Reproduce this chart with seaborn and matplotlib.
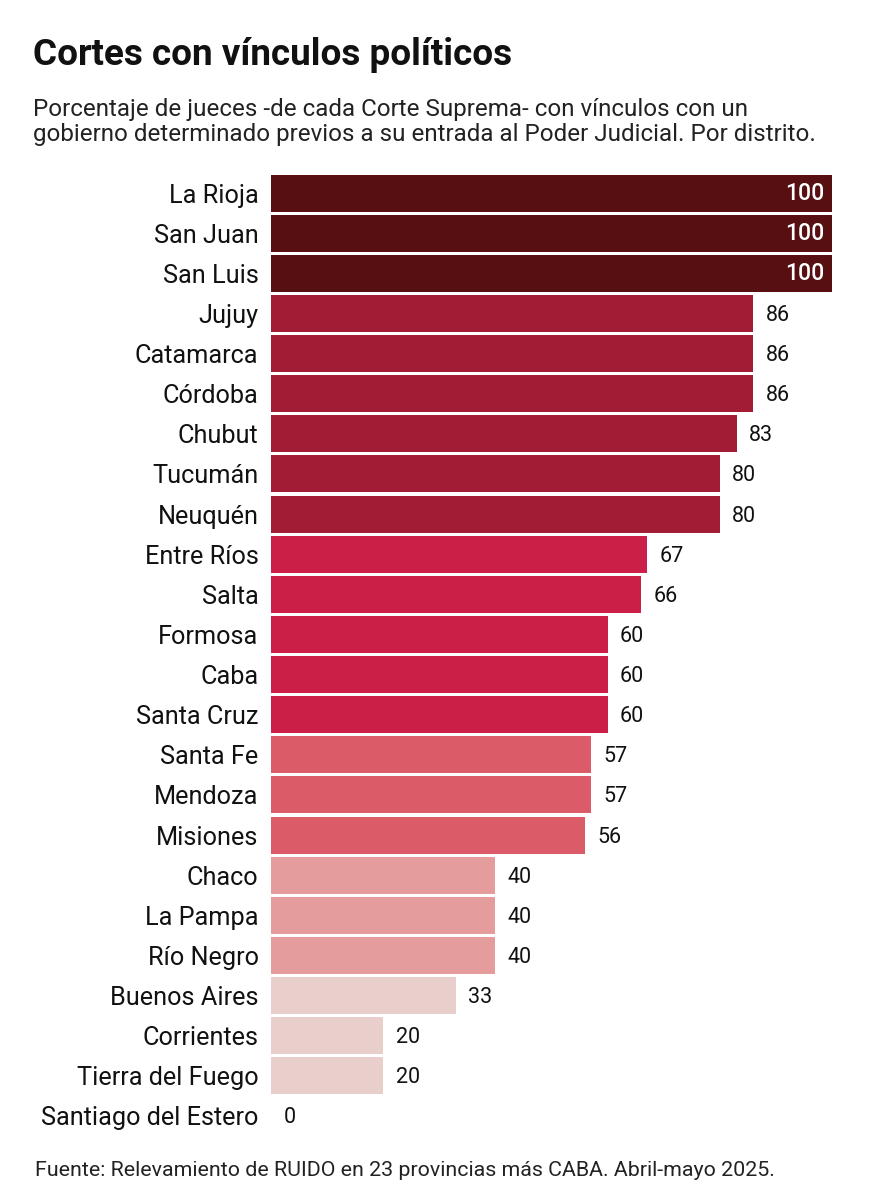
import pandas as pd
import matplotlib.pyplot as plt
import seaborn as sns

# Datos
distritos = ['La Rioja', 'San Juan', 'San Luis', 'Jujuy', 'Catamarca', 'Córdoba',
             'Chubut', 'Tucumán', 'Neuquén', 'Entre Ríos', 'Salta', 'Formosa',
             'Caba', 'Santa Cruz', 'Santa Fe', 'Mendoza', 'Misiones', 'Chaco',
             'La Pampa', 'Río Negro', 'Buenos Aires', 'Corrientes',
             'Tierra del Fuego', 'Santiago del Estero']
porcentajes = [100, 100, 100, 86, 86, 86, 83, 80, 80, 67, 66, 60, 60, 60,
               57, 57, 56, 40, 40, 40, 33, 20, 20, 0]

titulo = 'Cortes con vínculos políticos'
subtitulo = ('Porcentaje de jueces -de cada Corte Suprema- con vínculos con un\n'
             'gobierno determinado previos a su entrada al Poder Judicial. Por distrito.')
fuente = 'Fuente: Relevamiento de RUIDO en 23 provincias más CABA. Abril-mayo 2025.'


def color_para(v):
    if v >= 100:
        return '#570f12'
    if v >= 80:
        return '#a21c35'
    if v >= 60:
        return '#cb1f47'
    if v >= 50:
        return '#dc5b69'
    if v >= 40:
        return '#e59c9d'
    return '#e8cfcc'


sns.set_theme(style='white')
plt.rcParams['font.family'] = ['Roboto', 'DejaVu Sans']

df = pd.DataFrame({'distrito': distritos, 'pct': porcentajes})
paleta = {d: color_para(v) for d, v in zip(distritos, porcentajes)}

fig = plt.figure(figsize=(8.73, 12), dpi=100)
ax = fig.add_axes([271 / 873, 1 - 1136 / 1200, (832 - 271) / 873, 963 / 1200])

sns.barplot(data=df, x='pct', y='distrito', hue='distrito', palette=paleta,
            legend=False, width=0.92, ax=ax, edgecolor='none', saturation=1)

ax.set_xlim(0, 100)
ax.set_ylim(len(distritos) - 0.5, -0.5)
ax.set_xlabel('')
ax.set_ylabel('')
ax.set_xticks([])
ax.tick_params(axis='y', length=0, pad=9, labelsize=18.2, labelcolor='#111111')
sns.despine(ax=ax, left=True, bottom=True)

# Etiquetas de valores
for i, v in enumerate(porcentajes):
    if v >= 100:
        ax.text(v - 1.3, i, f'{v}', ha='right', va='center', color='white',
                fontsize=16.5, fontweight='medium')
    else:
        ax.text(v + 2.2, i + 0.05, f'{v}', ha='left', va='center', color='#111111',
                fontsize=15.5)

fig.text(33 / 873, 1 - 55 / 1200, titulo, fontsize=26.6, fontweight='bold',
         ha='left', va='center', color='#111111')
fig.text(33 / 873, 1 - 122 / 1200, subtitulo, fontsize=17.4, ha='left', va='center',
         color='#222222', linespacing=1.12)
fig.text(35 / 873, 1 - 1170 / 1200, fuente, fontsize=15.4, ha='left', va='center',
         color='#222222')

fig.savefig('out.png', dpi=100, facecolor='white')
